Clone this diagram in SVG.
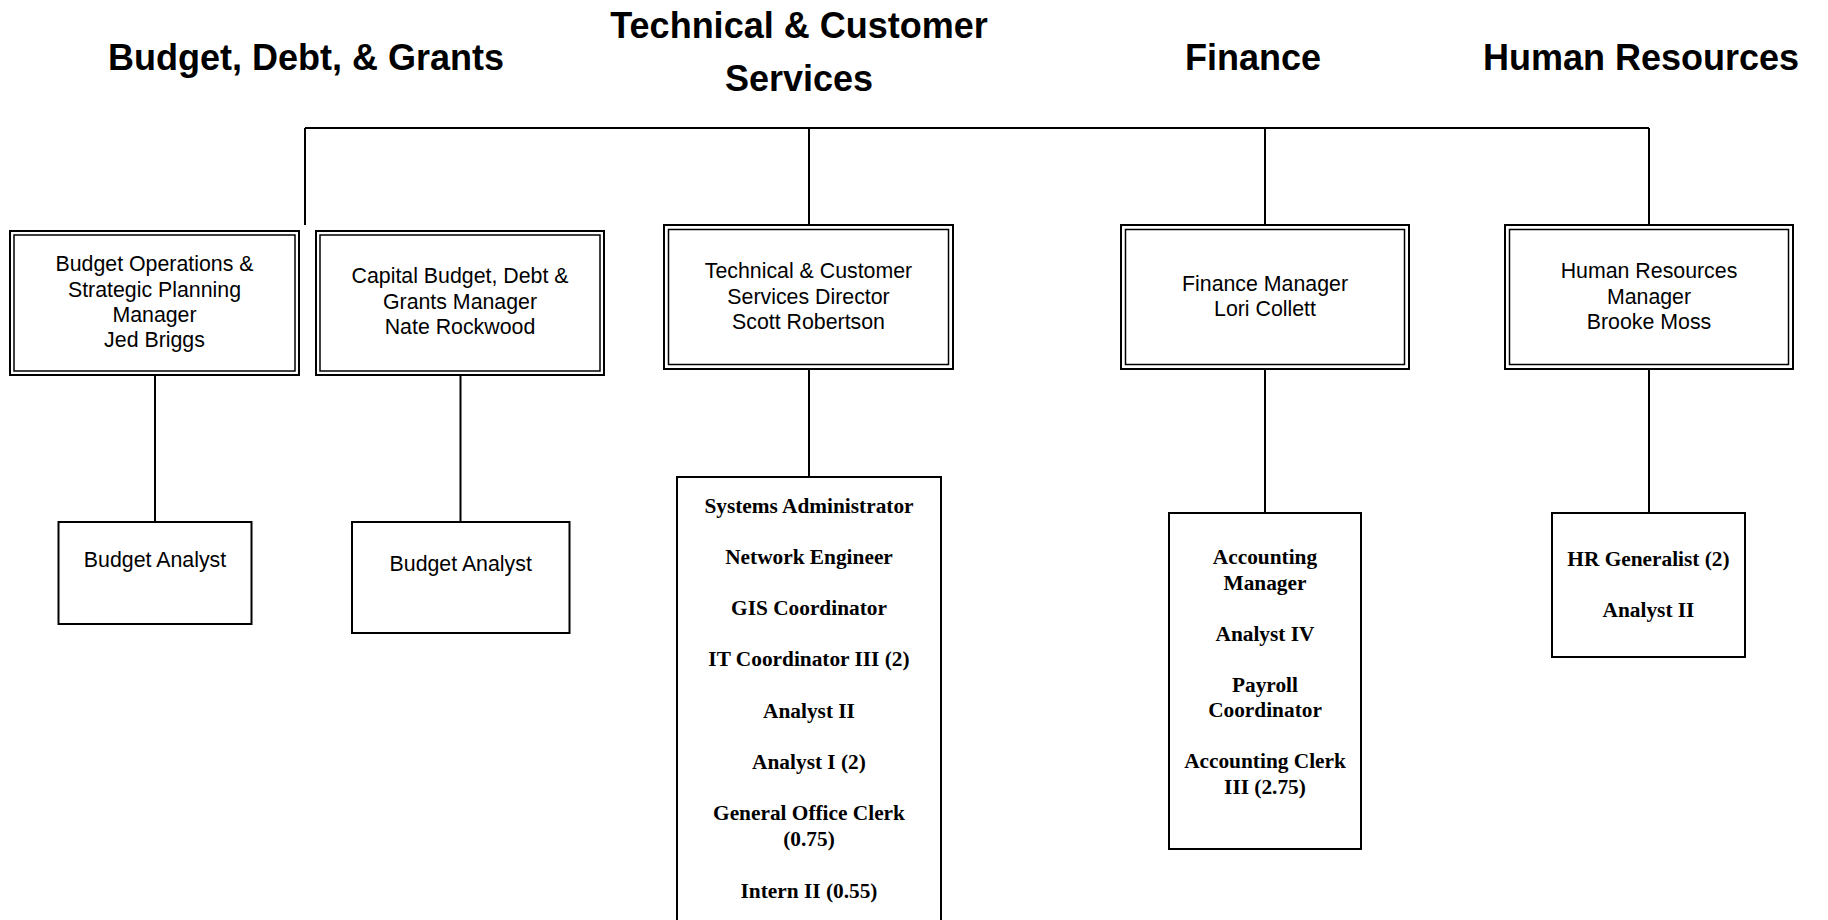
<svg xmlns="http://www.w3.org/2000/svg" width="1828" height="920" viewBox="0 0 1828 920">
<style>
.title{font-family:"Liberation Sans",Arial,sans-serif;font-weight:bold;font-size:36px;fill:#000;text-anchor:middle}
.mgr{font-family:"Liberation Sans",Arial,sans-serif;font-size:21.33px;fill:#000;text-anchor:middle}
.staff{font-family:"Liberation Serif","Times New Roman",serif;font-weight:bold;font-size:21.33px;fill:#000;text-anchor:middle}
.outer{fill:#fff;stroke:#000;stroke-width:2}
.inner{fill:none;stroke:#000;stroke-width:1.5}
.box{fill:#fff;stroke:#000;stroke-width:2}
.conn{fill:none;stroke:#000;stroke-width:2}
</style>
<rect width="1828" height="920" fill="#fff"/>
<g id="titles">
<text class="title" x="306" y="70">Budget, Debt, &amp; Grants</text>
<text class="title" x="799" y="38">Technical &amp; Customer</text>
<text class="title" x="799" y="91">Services</text>
<text class="title" x="1253" y="70">Finance</text>
<text class="title" x="1641" y="70">Human Resources</text>
</g>
<g id="connectors">
<path class="conn" d="M305 128H1649M305 128V225M809 128V225M1265 128V225M1649 128V225"/>
<path class="conn" d="M155 375V522M460.5 375V522M809 369V477M1265 369V513M1649 369V513"/>
</g>
<g id="budget-ops">
<rect class="outer" x="10" y="231" width="289" height="144"/>
<rect class="inner" x="14" y="235" width="281" height="136"/>
<text class="mgr" x="154.5" y="271">Budget Operations &amp;</text>
<text class="mgr" x="154.5" y="296.5">Strategic Planning</text>
<text class="mgr" x="154.5" y="322">Manager</text>
<text class="mgr" x="154.5" y="347">Jed Briggs</text>
</g>
<g id="capital-budget">
<rect class="outer" x="316" y="231" width="288" height="144"/>
<rect class="inner" x="320" y="235" width="280" height="136"/>
<text class="mgr" x="460" y="283.3">Capital Budget, Debt &amp;</text>
<text class="mgr" x="460" y="308.8">Grants Manager</text>
<text class="mgr" x="460" y="334.3">Nate Rockwood</text>
</g>
<g id="tech-director">
<rect class="outer" x="664" y="225" width="289" height="144"/>
<rect class="inner" x="668.5" y="229.5" width="280" height="135"/>
<text class="mgr" x="808.5" y="278">Technical &amp; Customer</text>
<text class="mgr" x="808.5" y="303.5">Services Director</text>
<text class="mgr" x="808.5" y="329">Scott Robertson</text>
</g>
<g id="finance-manager">
<rect class="outer" x="1121" y="225" width="288" height="144"/>
<rect class="inner" x="1125.5" y="229.5" width="279" height="135"/>
<text class="mgr" x="1265" y="290.7">Finance Manager</text>
<text class="mgr" x="1265" y="316">Lori Collett</text>
</g>
<g id="hr-manager">
<rect class="outer" x="1505" y="225" width="288" height="144"/>
<rect class="inner" x="1509.5" y="229.5" width="279" height="135"/>
<text class="mgr" x="1649" y="278.3">Human Resources</text>
<text class="mgr" x="1649" y="303.8">Manager</text>
<text class="mgr" x="1649" y="329.3">Brooke Moss</text>
</g>
<g id="budget-analyst-1">
<rect class="box" x="58.5" y="522" width="193" height="102"/>
<text class="mgr" x="155" y="567.3">Budget Analyst</text>
</g>
<g id="budget-analyst-2">
<rect class="box" x="352" y="522" width="217.5" height="111"/>
<text class="mgr" x="460.7" y="570.7">Budget Analyst</text>
</g>
<g id="tech-staff">
<rect class="box" x="677" y="477" width="264" height="447"/>
<text class="staff" x="809" y="512.5">Systems Administrator</text>
<text class="staff" x="809" y="563.8">Network Engineer</text>
<text class="staff" x="809" y="615.1">GIS Coordinator</text>
<text class="staff" x="809" y="666.4">IT Coordinator III (2)</text>
<text class="staff" x="809" y="717.7">Analyst II</text>
<text class="staff" x="809" y="769">Analyst I (2)</text>
<text class="staff" x="809" y="820.3">General Office Clerk</text>
<text class="staff" x="809" y="846">(0.75)</text>
<text class="staff" x="809" y="897.6">Intern II (0.55)</text>
</g>
<g id="finance-staff">
<rect class="box" x="1169" y="513" width="192" height="336"/>
<text class="staff" x="1265" y="564">Accounting</text>
<text class="staff" x="1265" y="589.5">Manager</text>
<text class="staff" x="1265" y="640.5">Analyst IV</text>
<text class="staff" x="1265" y="691.7">Payroll</text>
<text class="staff" x="1265" y="717">Coordinator</text>
<text class="staff" x="1265" y="768.3">Accounting Clerk</text>
<text class="staff" x="1265" y="794">III (2.75)</text>
</g>
<g id="hr-staff">
<rect class="box" x="1552" y="513" width="193" height="144"/>
<text class="staff" x="1648.5" y="566">HR Generalist (2)</text>
<text class="staff" x="1648.5" y="617">Analyst II</text>
</g>
</svg>
